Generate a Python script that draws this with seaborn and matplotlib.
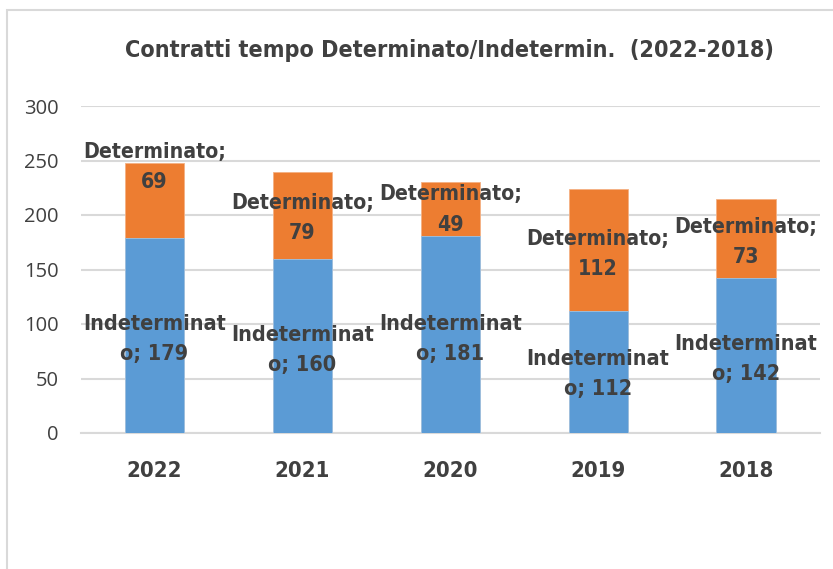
import os
import pandas as pd
import matplotlib.pyplot as plt
import seaborn as sns
from matplotlib import font_manager as fm
from matplotlib.patches import Rectangle

# chart data
years = ["2022", "2021", "2020", "2019", "2018"]
indeterminato = [179, 160, 181, 112, 142]
determinato = [69, 79, 49, 112, 73]

# where the data labels sit (centre of the two-line label, in data units)
det_label_y = [244, 197, 205, 164, 175]
ind_label_y = [86, 76, 86, 54, 68]

df = pd.DataFrame({"anno": years, "Indeterminato": indeterminato, "Determinato": determinato})
df["totale"] = df["Indeterminato"] + df["Determinato"]


def find_narrow_bold():
    # look for a condensed / narrow bold sans face among installed fonts
    found = []
    for f in fm.fontManager.ttflist:
        base = os.path.basename(f.fname).lower()
        nm = f.name.lower()
        if "mono" in base or "serif" in base or "mono" in nm:
            continue
        if not ("narrow" in base or "condensed" in base or "narrow" in nm or "condensed" in nm):
            continue
        if "bold" in base and "oblique" not in base and "italic" not in base:
            found.append(f.fname)
    found.sort(key=lambda p: ("semi" in p.lower() or "extra" in p.lower(), p))
    return found[0] if found else None


sns.set_style("white")
plt.rcParams["font.family"] = ["Open Sans", "DejaVu Sans"]

narrow_file = find_narrow_bold()
if narrow_file:
    narrow = fm.FontProperties(fname=narrow_file)
else:
    narrow = fm.FontProperties(family="Liberation Sans", weight="bold")

BLUE = "#5B9BD5"
ORANGE = "#ED7D31"
TXT = "#404040"

fig = plt.figure(figsize=(8.33, 5.69), dpi=100)
ax = fig.add_axes([80.6 / 833, 1 - 433 / 569, (820 - 80.6) / 833, 327 / 569])

# stacked bars: total in orange, then the blue part over it
sns.barplot(data=df, x="anno", y="totale", color=ORANGE, width=0.4, ax=ax,
            saturation=1, edgecolor="#F4B183", linewidth=0.6, zorder=2)
sns.barplot(data=df, x="anno", y="Indeterminato", color=BLUE, width=0.4, ax=ax,
            saturation=1, edgecolor="#9DC3E6", linewidth=0.6, zorder=3)

ax.set_ylim(0, 300)
ax.set_xlim(-0.5, 4.5)
ax.set_yticks(range(0, 301, 50))
ax.yaxis.grid(True, color="#D9D9D9", lw=1.5, zorder=0)
ax.set_axisbelow(True)
for s in ["top", "right", "left"]:
    ax.spines[s].set_visible(False)
ax.spines["bottom"].set_color("#D9D9D9")
ax.spines["bottom"].set_linewidth(1.5)
ax.set_xlabel("")
ax.set_ylabel("")
ax.tick_params(axis="y", length=0, pad=16, labelsize=14.5, labelcolor=TXT)
ax.tick_params(axis="x", length=0, pad=20)
for lab in ax.get_xticklabels():
    lab.set_fontproperties(narrow)
    lab.set_fontsize(20)
    lab.set_color(TXT)

# data labels
det_texts, ind_texts = [], []
for i in range(len(years)):
    det_texts.append(ax.text(i, det_label_y[i], "Determinato;\n" + str(determinato[i]),
                             ha="center", va="center", fontproperties=narrow, fontsize=20,
                             color=TXT, linespacing=1.2, zorder=5))
    ind_texts.append(ax.text(i, ind_label_y[i], "Indeterminat\no; " + str(indeterminato[i]),
                             ha="center", va="center", fontproperties=narrow, fontsize=20,
                             color=TXT, linespacing=1.2, zorder=5))

title = fig.text(449 / 833, 1 - 50 / 569, "Contratti tempo Determinato/Indetermin.  (2022-2018)",
                 ha="center", va="center", fontproperties=narrow, fontsize=22, color=TXT)

# scale font sizes so the widths match the reference picture
fig.canvas.draw()
r = fig.canvas.get_renderer()


def fit(t, target):
    w = t.get_window_extent(r).width
    t.set_fontsize(t.get_fontsize() * target / w)


fit(title, 648)
for t in det_texts + ind_texts:
    fit(t, 143)
yr = ax.get_xticklabels()[0]
k = 55 / yr.get_window_extent(r).width
for lab in ax.get_xticklabels():
    lab.set_fontsize(lab.get_fontsize() * k)

# spread the two label lines to the reference gap (about 33 px between baselines)
probe = fig.text(0, 0, "lp", fontproperties=narrow, fontsize=det_texts[0].get_fontsize())
lp_h = probe.get_window_extent(r).height
probe.remove()
for t in det_texts + ind_texts:
    t.set_linespacing(33 / lp_h)

# chart frame
fig.patches.append(Rectangle((7 / 833, -0.1), 1.2, 1 - 10 / 569 + 0.1, transform=fig.transFigure,
                             fill=False, edgecolor="#D9D9D9", lw=1.5))

fig.savefig("out.png", dpi=100)
